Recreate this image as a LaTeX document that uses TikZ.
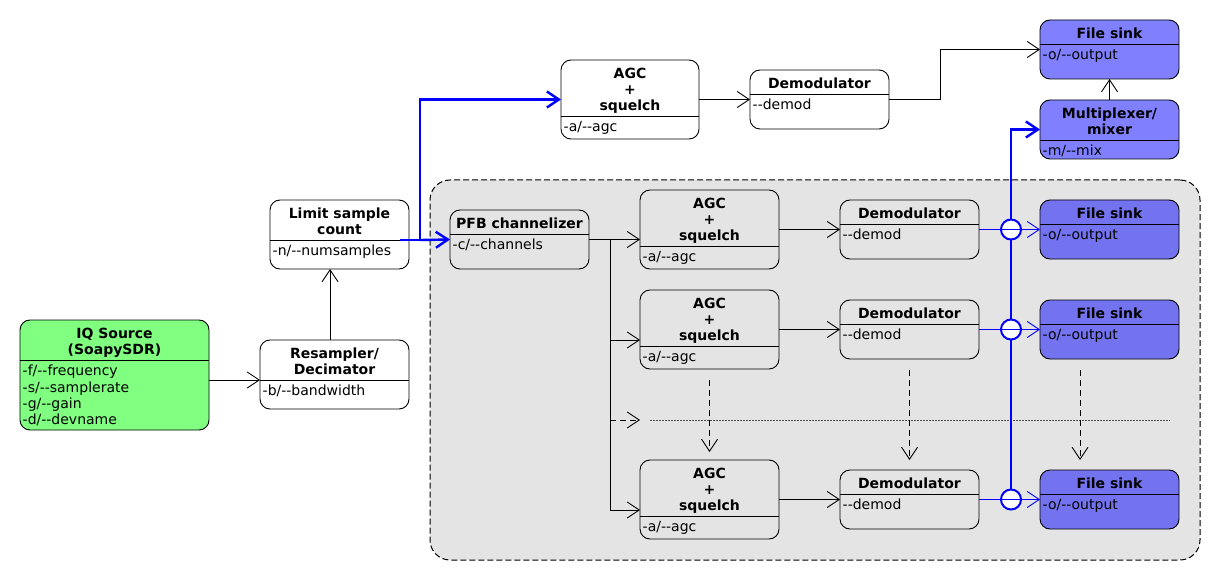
\documentclass[tikz,border=0pt]{standalone}
\usepackage{fontspec}
\setmainfont{DejaVu Sans}
\usetikzlibrary{arrows.meta}
\definecolor{srcgreen}{RGB}{128,255,128}
\definecolor{sinkblue}{RGB}{128,128,255}
\definecolor{sinkin}{RGB}{115,115,240}
\definecolor{grp}{RGB}{228,228,228}
\definecolor{pblue}{RGB}{0,0,255}
\newcommand{\dd}{-\kern0pt-}
% #1 name, #2 x, #3 y(top), #4 width, #5 height, #6 divider offset, #7 fill, #8 title, #9 attributes
\newcommand{\umlblock}[9]{%
  \node[blk, fill=#7, minimum width=#4pt, minimum height=#5pt, anchor=north west] (#1) at (#2,#3) {};
  \draw[line width=0.9pt] ([yshift=-#6pt]#1.north west) -- ([yshift=-#6pt]#1.north east);
  \node[ttl, anchor=north] at ([yshift=-7.5pt]#1.north) {#8};
  \node[att, anchor=north west] at ([xshift=2.5pt,yshift=-#6pt-5pt]#1.north west) {#9};
}
\begin{document}
\begin{tikzpicture}[x=1pt,y=-1pt,
  blk/.style={draw, line width=0.9pt, rounded corners=10pt, inner sep=0pt, outer sep=0pt},
  ttl/.style={font=\bfseries\fontsize{14}{16}\selectfont, align=center, inner sep=0pt},
  att/.style={font=\fontsize{14}{16.3}\selectfont, align=left, inner sep=0pt},
  conn/.style={line width=0.9pt, -{Straight Barb[length=12pt,width=16pt]}},
  dconn/.style={conn, dash pattern=on 6pt off 4pt},
  bconn/.style={conn, draw=pblue},
  bthick/.style={line width=2.4pt, draw=pblue, -{Straight Barb[length=12pt,width=16pt]}},
  joint/.style={circle, draw=pblue, line width=2pt, fill=white, minimum size=20pt, inner sep=0pt},
  grpbox/.style={draw=black, fill=grp, line width=1pt, rounded corners=20pt, dash pattern=on 6pt off 3pt, inner sep=0pt, outer sep=0pt},
  dotline/.style={line width=0.6pt, draw=black!70, dash pattern=on 1.5pt off 1.5pt}
]
\useasboundingbox (0,0) rectangle (1220,580);

% group container
\node[grpbox, anchor=north west, minimum width=770pt, minimum height=380pt] (grpc) at (430,180) {};

% blocks
\umlblock{iq}{20}{320}{189}{110}{40}{srcgreen}{IQ Source\\(SoapySDR)}{-f/\dd frequency\\-s/\dd samplerate\\-g/\dd gain\\-d/\dd devname}
\umlblock{res}{260}{340}{149}{69}{40}{white}{Resampler/\\Decimator}{-b/\dd bandwidth}
\umlblock{lim}{270}{200}{139}{69}{40}{white}{Limit sample\\count}{-n/\dd numsamples}
\umlblock{agct}{561}{60}{138}{79}{56}{white}{AGC\\+\\squelch}{-a/\dd agc}
\umlblock{demt}{750}{70}{139}{59}{24}{white}{Demodulator}{\dd demod}
\umlblock{fst}{1040}{20}{139}{59}{24}{sinkblue}{File sink}{-o/\dd output}
\umlblock{mix}{1040}{100}{139}{59}{40}{sinkblue}{Multiplexer/\\mixer}{-m/\dd mix}
\umlblock{pfb}{450}{210}{139}{59}{24}{grp}{PFB channelizer}{-c/\dd channels}
\umlblock{agca}{640}{190}{139}{79}{56}{grp}{AGC\\+\\squelch}{-a/\dd agc}
\umlblock{agcb}{640}{290}{139}{79}{56}{grp}{AGC\\+\\squelch}{-a/\dd agc}
\umlblock{agcc}{640}{460}{139}{79}{56}{grp}{AGC\\+\\squelch}{-a/\dd agc}
\umlblock{dema}{840}{200}{139}{59}{24}{grp}{Demodulator}{\dd demod}
\umlblock{demb}{840}{300}{139}{59}{24}{grp}{Demodulator}{\dd demod}
\umlblock{demc}{840}{470}{139}{59}{24}{grp}{Demodulator}{\dd demod}
\umlblock{fsa}{1040}{200}{139}{59}{24}{sinkin}{File sink}{-o/\dd output}
\umlblock{fsb}{1040}{300}{139}{59}{24}{sinkin}{File sink}{-o/\dd output}
\umlblock{fsc}{1040}{470}{139}{59}{24}{sinkin}{File sink}{-o/\dd output}

% left chain
\draw[conn] ([yshift=-5pt]iq.east) -- ([yshift=-5pt]iq.east -| res.west);
\draw[conn] ([xshift=-4.5pt]res.north) -- ([xshift=-4.5pt]res.north |- lim.south);

% blue split
\coordinate (bs) at ([xshift=-9pt,yshift=-5.5pt]lim.east);
\coordinate (bj) at ([xshift=11pt,yshift=-5.5pt]lim.east);
\draw[bthick] (bs) -- (bj) |- (agct.west);
\draw[bthick] (bj) -- (pfb.west);

% top chain
\draw[conn] (agct.east) -- (demt.west);
\draw[conn] (demt.east) -- ++(51,0) |- (fst.west);
\draw[conn] (mix.north) -- (fst.south);

% channelizer fan-out
\draw[conn] (pfb.east) -- (pfb.east -| agca.west);
\coordinate (br) at ([xshift=21pt]pfb.east);
\draw[conn] (br) |- ([yshift=-10.5pt]agcb.west);
\draw[conn] (br) |- ([yshift=-10.5pt]agcc.west);
\coordinate (dend) at ([yshift=79.5pt]agcc.west);
\draw[dconn] (br |- dend) -- (dend);
\coordinate (dl1) at ([xshift=10pt]dend);
\coordinate (dl2) at ([xshift=530pt]dend);
\draw[dotline] (dl1) -- (dl2);

% dashed "more channels" arrows
\draw[dconn] ([yshift=80pt]agcc.north) -- ([yshift=8pt]agcc.north);
\draw[dconn] ([yshift=100pt]demc.north) -- ([yshift=10pt]demc.north);
\draw[dconn] ([xshift=-29.5pt,yshift=100pt]fsc.north) -- ([xshift=-29.5pt,yshift=10pt]fsc.north);

% AGC -> demod
\draw[conn] (agca.east) -- (dema.west);
\draw[conn] (agcb.east) -- (demb.west);
\draw[conn] (agcc.east) -- (demc.west);

% mixer bus
\coordinate (pa) at ([xshift=32pt]dema.east);
\coordinate (pb) at ([xshift=32pt]demb.east);
\coordinate (pc) at ([xshift=32pt]demc.east);
\draw[bthick] (pc) |- (mix.west);
\node[joint] (ja) at (pa) {};
\node[joint] (jb) at (pb) {};
\node[joint] (jc) at (pc) {};

% demod -> file sinks
\draw[bconn] (dema.east) -- (fsa.west);
\draw[bconn] (demb.east) -- (fsb.west);
\draw[bconn] (demc.east) -- (fsc.west);
\end{tikzpicture}
\end{document}
